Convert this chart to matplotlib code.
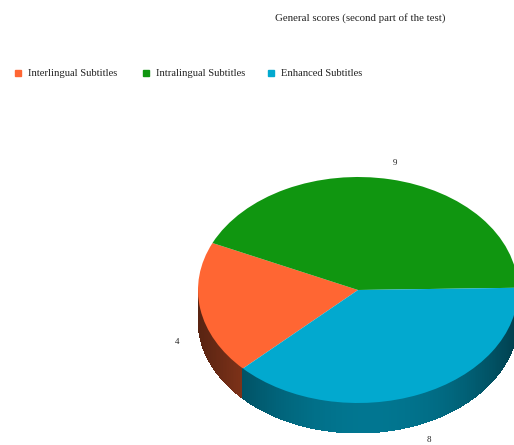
import numpy as np
import matplotlib
matplotlib.use("Agg")
import matplotlib.pyplot as plt
from matplotlib.patches import Rectangle
from matplotlib.collections import PolyCollection
from matplotlib.colors import to_rgb

# data
categorias = ['Interlingual Subtitles', 'Intralingual Subtitles', 'Enhanced Subtitles']
valores = [4, 9, 8]
cores = ['#ff6633', '#109610', '#02a9cf']
titulo = 'General scores (second part of the test)'

plt.rcParams['font.family'] = ['Liberation Serif', 'DejaVu Serif']

W, H = 514, 445
fig = plt.figure(figsize=(W / 100, H / 100), dpi=100)
ax = fig.add_axes([0, 0, 1, 1])

# elipse: centro em pixels e semi-eixos
cx, cy = 358, 290
rx, ry = 160, 113
espessura = 30 / ry

def px(x, y):
    return x / W, 1 - y / H

# pizza (face de cima)
wedges, _ = ax.pie(valores, colors=cores, startangle=224, counterclock=False,
                   wedgeprops=dict(linewidth=0, zorder=3))
ax.set_aspect('auto')
ax.set_xlim(-cx / rx, (W - cx) / rx)
ax.set_ylim(-(H - cy) / ry, cy / ry)
ax.axis('off')

# lateral com sombreamento
polys, fc = [], []
for w, cor in zip(wedges, cores):
    base = np.array(to_rgb(cor))
    ts = np.linspace(w.theta1, w.theta2, int(abs(w.theta2 - w.theta1)) + 2)
    for a, b in zip(ts[:-1], ts[1:]):
        m = np.radians((a + b) / 2)
        if np.sin(m) > 0.01:
            continue
        ra, rb = np.radians(a - 0.4), np.radians(b + 0.4)
        polys.append([(np.cos(ra), np.sin(ra)), (np.cos(rb), np.sin(rb)),
                      (np.cos(rb), np.sin(rb) - espessura),
                      (np.cos(ra), np.sin(ra) - espessura)])
        c = max(0, np.cos(m - np.radians(275)))
        f = 0.35 + 0.35 * c ** 2
        fc.append(base * f)
ax.add_collection(PolyCollection(polys, facecolors=fc, linewidths=0,
                                 antialiased=False, zorder=2))

# rótulos com os valores
for w, v in zip(wedges, valores):
    m = np.radians((w.theta1 + w.theta2) / 2)
    x, y = 1.15 * np.cos(m), 1.15 * np.sin(m)
    if y < 0:
        y -= espessura
    ax.text(x, y, str(v), ha='center', va='center', fontsize=6.5, color='#222222')

# título
fig.text(*px(360, 18), titulo, ha='center', va='center', fontsize=7.8, color='#222222')

# legenda
leg_x = [18, 146, 271]
for x0, nome, cor in zip(leg_x, categorias, cores):
    fig.patches.append(Rectangle(px(x0 - 3, 76), 6 / W, 6 / H, color=cor,
                                 transform=fig.transFigure, figure=fig))
    fig.text(*px(x0 + 10, 73), nome, ha='left', va='center', fontsize=7.6, color='#222222')

fig.savefig('out.png', dpi=100)
